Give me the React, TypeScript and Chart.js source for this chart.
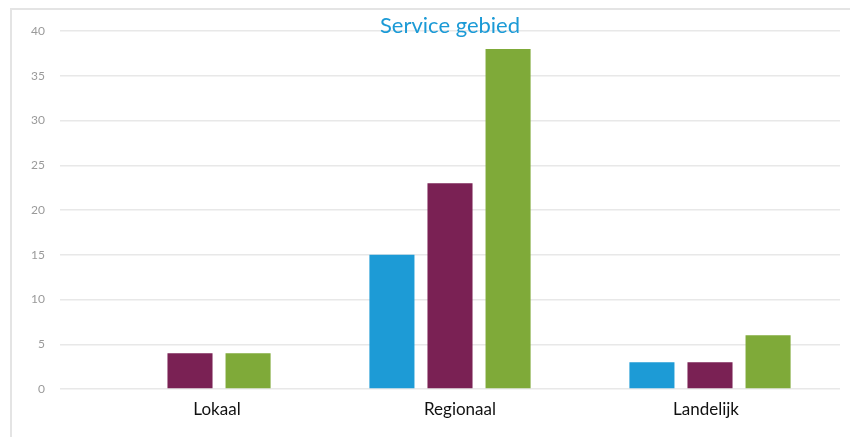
import React, { useEffect, useRef } from "react";
import { Chart, registerables } from "chart.js";

Chart.register(...registerables);

const categories = ["Lokaal", "Regionaal", "Landelijk"];
const seriesBlue = [0, 15, 3];
const seriesPurple = [4, 23, 3];
const seriesGreen = [4, 38, 6];
const yTicks = [0, 5, 10, 15, 20, 25, 30, 35, 40];
const titleText = "Service gebied";
// horizontal nudge of each category caption, as placed in the source picture
const labelShift = [27, 10, -4];

const overlayPlugin = {
  id: "overlayText",
  afterDraw(chart: any) {
    const { ctx, chartArea } = chart;
    const xScale = chart.scales.x;
    ctx.save();
    ctx.font = "22px Lato, 'Open Sans', sans-serif";
    ctx.fillStyle = "#1b9ad6";
    ctx.textAlign = "center";
    ctx.textBaseline = "middle";
    ctx.fillText(titleText, (chartArea.left + chartArea.right) / 2, 26);
    ctx.font = "17px Lato, 'Open Sans', sans-serif";
    ctx.fillStyle = "#111";
    categories.forEach((c, i) => {
      ctx.fillText(c, xScale.getPixelForTick(i) + labelShift[i], chartArea.bottom + 21);
    });
    ctx.restore();
  },
};

export default function App() {
  const ref = useRef<HTMLCanvasElement>(null);
  useEffect(() => {
    document.body.style.margin = "0";
    const chart = new Chart(ref.current!, {
      type: "bar",
      data: {
        labels: categories,
        datasets: [
          { label: "a", data: seriesBlue, backgroundColor: "#1d9bd6" },
          { label: "b", data: seriesPurple, backgroundColor: "#7a2154" },
          { label: "c", data: seriesGreen, backgroundColor: "#7faa39" },
        ],
      },
      options: {
        responsive: false,
        animation: false,
        layout: { padding: { top: 31, right: 10, bottom: 0, left: 0 } },
        plugins: { legend: { display: false }, title: { display: false }, tooltip: { enabled: false } },
        datasets: { bar: { categoryPercentage: 0.67, barPercentage: 0.776 } },
        scales: {
          x: {
            grid: { display: false },
            border: { display: false },
            ticks: { display: false },
            afterFit(scale: any) { scale.height = 48; },
          },
          y: {
            min: 0,
            max: 40,
            afterBuildTicks(scale: any) { scale.ticks = yTicks.map((v) => ({ value: v })); },
            grid: { color: "#e8e8e8", drawTicks: false, lineWidth: 1.5 },
            border: { display: false },
            ticks: { color: "#9a9a9a", font: { size: 12, family: "Lato, sans-serif" }, padding: 15 },
            afterFit(scale: any) { scale.width = 60; },
          },
        },
      },
      plugins: [overlayPlugin],
    } as any);
    return () => chart.destroy();
  }, []);
  return (
    <div style={{ position: "relative", width: 850, height: 437, background: "#fff" }}>
      <canvas ref={ref} width={850} height={437} style={{ width: 850, height: 437, display: "block" }} />
      <div style={{ position: "absolute", left: 10, top: 8, width: 840, height: 429, borderLeft: "2px solid #e4e4e4", borderTop: "2px solid #e4e4e4", pointerEvents: "none" }} />
    </div>
  );
}
